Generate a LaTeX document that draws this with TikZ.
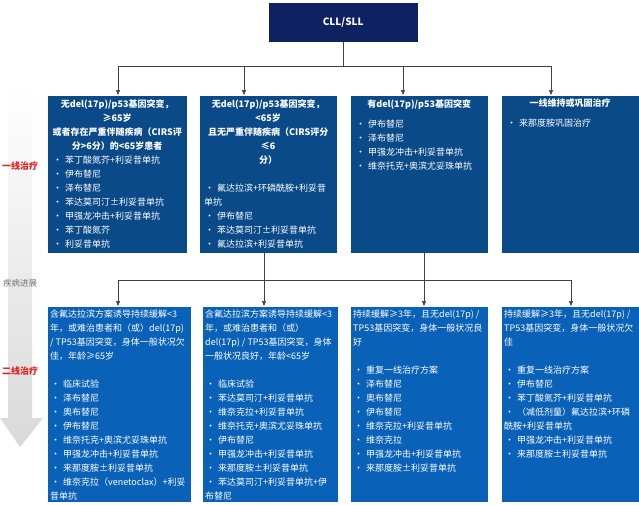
\documentclass[tikz,border=0pt]{standalone}
\usepackage{fontspec}
\setmainfont{Noto Sans CJK SC}
\XeTeXlinebreaklocale "zh"
\XeTeXlinebreakskip=0pt plus 1pt
\usetikzlibrary{arrows.meta}
\definecolor{topblue}{HTML}{0B4A88}
\definecolor{botblue}{HTML}{0A62B8}
\definecolor{navy}{HTML}{0E2262}
\definecolor{lab}{HTML}{E0201E}
\newcommand\bl[1]{\par\hangindent=13pt\hangafter=1\noindent\makebox[13pt][l]{\hspace{1pt}\textbullet}#1}
\newcommand\bx[3]{\parbox[t][#2][t]{#1}{\color{white}\fontsize{9}{14}\selectfont\raggedright #3}}
\begin{document}
\begin{tikzpicture}[x=1pt,y=1pt,
  topbox/.style={fill=topblue,draw=white,line width=0.4pt,inner xsep=5pt,inner ysep=4pt,anchor=north west},
  botbox/.style={fill=botblue,draw=white,line width=0.4pt,inner xsep=3pt,inner ysep=4pt,anchor=north west},
  conn/.style={draw=black!75,line width=0.6pt},
  arr/.style={conn,-{Triangle[length=5pt,width=4pt]}}]
\useasboundingbox (0,0) rectangle (639,-504);
% left gradient arrow
\shade[top color=white,bottom color=black!15] (8,-88) -- (32,-88) -- (32,-418) -- (43,-418) -- (20,-447) -- (0,-418) -- (8,-418) -- cycle;
\node[text=lab,font=\bfseries\fontsize{9}{10}\selectfont] (l1) at (20,-166) {一线治疗};
\node[text=black!55,font=\fontsize{8.5}{10}\selectfont] (l2) at (20,-283) {疾病进展};
\node[text=lab,font=\bfseries\fontsize{9}{10}\selectfont] (l3) at (20,-371) {二线治疗};
% root
\node[fill=navy,draw=white,minimum width=150pt,minimum height=40pt,text=white,font=\bfseries\fontsize{10}{12}\selectfont,anchor=north west] (cll) at (268,-2) {CLL/SLL};
% top boxes
\node[topbox] (t1) at (47,-95) {\bx{130pt}{150pt}{{\bfseries\centering 无del(17p)/p53基因突变，≥65岁\\或者存在严重伴随疾病（CIRS评\\分>6分）的<65岁患者\par}
\bl{苯丁酸氮芥+利妥昔单抗}\bl{伊布替尼}\bl{泽布替尼}\bl{苯达莫司汀±利妥昔单抗}\bl{甲强龙冲击+利妥昔单抗}\bl{苯丁酸氮芥}\bl{利妥昔单抗}\bl{维奈托克+奥滨尤妥珠单抗}}};
\node[topbox] (t2) at (199,-95) {\bx{128pt}{150pt}{{\bfseries\centering 无del(17p)/p53基因突变，<65岁\\且无严重伴随疾病（CIRS评分≤6\\分）\par}\vspace{14pt}
\bl{氟达拉滨+环磷酰胺+利妥昔\\单抗}\bl{伊布替尼}\bl{苯达莫司汀±利妥昔单抗}\bl{氟达拉滨+利妥昔单抗}\bl{甲强龙冲击+利妥昔单抗}}};
\node[topbox] (t3) at (350,-95) {\bx{128pt}{150pt}{{\bfseries\centering 有del(17p)/p53基因突变\par}\vspace{6pt}
\bl{伊布替尼}\bl{泽布替尼}\bl{甲强龙冲击+利妥昔单抗}\bl{维奈托克+奥滨尤妥珠单抗}}};
\node[topbox] (t4) at (501,-95) {\bx{128pt}{150pt}{{\bfseries\centering 一线维持或巩固治疗\par}\vspace{6pt}
\bl{来那度胺巩固治疗}}};
% bottom boxes
\node[botbox] (b1) at (47,-306) {\bx{138pt}{188pt}{含氟达拉滨方案诱导持续缓解<3\\年，或难治患者和（或）del(17p)\\/ TP53基因突变，身体一般状况欠\\佳，年龄≥65岁\par\vspace{14pt}
\bl{临床试验}\bl{泽布替尼}\bl{奥布替尼}\bl{伊布替尼}\bl{维奈托克+奥滨尤妥珠单抗}\bl{甲强龙冲击+利妥昔单抗}\bl{来那度胺±利妥昔单抗}\bl{维奈克拉（venetoclax）+利妥\\昔单抗}}};
\node[botbox] (b2) at (202,-306) {\bx{130pt}{188pt}{含氟达拉滨方案诱导持续缓解<3\\年，或难治患者和（或）\\del(17p) / TP53基因突变，身体\\一般状况良好，年龄<65岁\par\vspace{14pt}
\bl{临床试验}\bl{苯达莫司汀+利妥昔单抗}\bl{维奈克拉+利妥昔单抗}\bl{维奈托克+奥滨尤妥珠单抗}\bl{伊布替尼}\bl{甲强龙冲击+利妥昔单抗}\bl{来那度胺±利妥昔单抗}\bl{苯达莫司汀+利妥昔单抗+伊\\布替尼}}};
\node[botbox] (b3) at (350,-306) {\bx{132pt}{188pt}{持续缓解≥3年，且无del(17p) /\\TP53基因突变，身体一般状况良\\好\par\vspace{14pt}
\bl{重复一线治疗方案}\bl{泽布替尼}\bl{奥布替尼}\bl{伊布替尼}\bl{维奈克拉+利妥昔单抗}\bl{维奈克拉}\bl{甲强龙冲击+利妥昔单抗}\bl{来那度胺±利妥昔单抗}}};
\node[botbox] (b4) at (501,-306) {\bx{132pt}{188pt}{持续缓解≥3年，且无del(17p) /\\TP53基因突变，身体一般状况欠\\佳\par\vspace{14pt}
\bl{重复一线治疗方案}\bl{伊布替尼}\bl{苯丁酸氮芥+利妥昔单抗}\bl{（减低剂量）氟达拉滨+环磷\\酰胺+利妥昔单抗}\bl{甲强龙冲击+利妥昔单抗}\bl{来那度胺±利妥昔单抗}}};
% connectors top
\coordinate (h1) at (118,-66);
\coordinate (h2) at (551,-66);
\coordinate (a1) at (118,-95);
\coordinate (a2) at (244,-95);
\coordinate (a3) at (403,-95);
\coordinate (a4) at (551,-95);
\draw[conn] (cll.south) -- (cll.south |- h1);
\draw[conn] (h1) -- (h2);
\foreach \i in {1,...,4} \draw[arr] (h1 -| a\i) -- (a\i);
% connectors bottom
\coordinate (g1) at (118,-280);
\coordinate (g2) at (571,-280);
\coordinate (s2) at (264,-253);
\coordinate (s3) at (424,-253);
\coordinate (c1) at (118,-306);
\coordinate (c2) at (264,-306);
\coordinate (c3) at (424,-306);
\coordinate (c4) at (571,-306);
\draw[conn] (s2) -- (s2 |- g1);
\draw[conn] (s3) -- (s3 |- g1);
\draw[conn] (g1) -- (g2);
\foreach \i in {1,...,4} \draw[arr] (g1 -| c\i) -- (c\i);
\end{tikzpicture}
\end{document}
